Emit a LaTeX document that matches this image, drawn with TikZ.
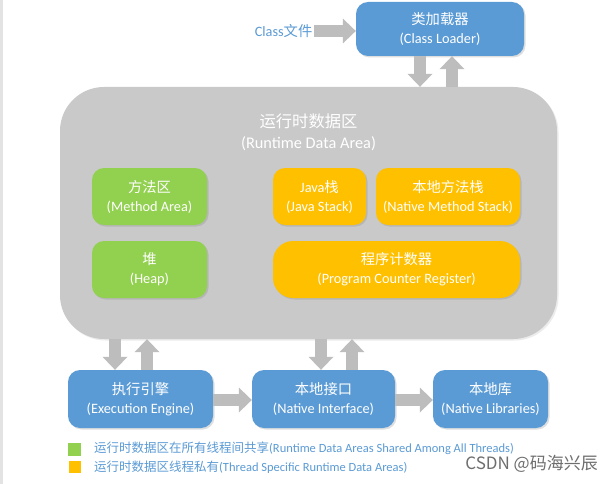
\documentclass[tikz,border=0pt]{standalone}
\usepackage{fontspec}
\setmainfont{Carlito}
\newfontfamily\cjk{Noto Sans CJK SC}
\usetikzlibrary{arrows.meta,shadows}
\definecolor{boxblue}{HTML}{5B9BD5}
\definecolor{boxgreen}{HTML}{92D050}
\definecolor{boxorange}{HTML}{FFC000}
\definecolor{areagray}{HTML}{C9C9C9}
\definecolor{arrowgray}{HTML}{BDBDBD}
\definecolor{textblue}{HTML}{5B9BD5}
\definecolor{markgray}{HTML}{6E6E6E}
\definecolor{edgegray}{HTML}{E3E3E3}
\tikzset{
  box/.style={rounded corners=12pt, text=white, align=center, inner sep=0pt,
    font=\fontsize{14.3}{19}\selectfont,
    drop shadow={shadow xshift=1.5pt, shadow yshift=-1.5pt, fill=black!50, opacity=0.25}},
  bluebox/.style={box, fill=boxblue},
  greenbox/.style={box, fill=boxgreen},
  orangebox/.style={box, fill=boxorange},
  blockarrow/.style={draw=arrowgray, line width=12pt,
    -{Triangle[width=25pt,length=13pt,line width=0pt]}},
  legendtext/.style={anchor=west, text=textblue, inner sep=0pt, font=\fontsize{12.5}{14}\selectfont},
}
\begin{document}
\begin{tikzpicture}[x=1pt,y=-1pt]
\path[use as bounding box, fill=white] (0,0) rectangle (613,484);
\fill[edgegray] (0,0) rectangle (3,484);

% Runtime data area
\node[fill=areagray, rounded corners=44pt, minimum width=497pt, minimum height=252pt,
      inner sep=0pt, drop shadow={shadow xshift=1.5pt, shadow yshift=-1.5pt, fill=black!50, opacity=0.15}]
      (rda) at (308.5,213) {};
\node[text=white, align=center, font=\fontsize{16.3}{21}\selectfont, inner sep=0pt]
      (rdatitle) at (308.5,132.5) {{\cjk 运行时数据区}\\(Runtime Data Area)};

% Class loader
\node[bluebox, minimum width=168pt, minimum height=54pt] (cl) at (440,29)
      {{\cjk 类加载器}\\(Class Loader)};
\node[text=textblue, anchor=east, inner sep=1.5pt, font=\fontsize{14.3}{16}\selectfont]
      (classfile) at (314,31) {Class{\cjk 文件}};

% inner areas
\node[greenbox, minimum width=115pt, minimum height=57pt] (ma) at (149.5,196.5)
      {{\cjk 方法区}\\(Method Area)};
\node[greenbox, minimum width=115pt, minimum height=57pt] (heap) at (149.5,269.5)
      {{\cjk 堆}\\(Heap)};
\node[orangebox, minimum width=93pt, minimum height=57pt] (js) at (319.5,196.5)
      {Java{\cjk 栈}\\(Java Stack)};
\node[orangebox, minimum width=144pt, minimum height=57pt] (nms) at (448,196.5)
      {{\cjk 本地方法栈}\\(Native Method Stack)};
\node[orangebox, rounded corners=20pt, minimum width=247pt, minimum height=57pt] (pcr) at (396.5,269.5)
      {{\cjk 程序计数器}\\(Program Counter Register)};

% bottom row
\node[bluebox, minimum width=145pt, minimum height=58pt] (ee) at (140.5,399)
      {{\cjk 执行引擎}\\(Execution Engine)};
\node[bluebox, minimum width=143pt, minimum height=58pt] (ni) at (323.5,399)
      {{\cjk 本地接口}\\(Native Interface)};
\node[bluebox, minimum width=115pt, minimum height=58pt] (nl) at (490.5,399)
      {{\cjk 本地库}\\(Native Libraries)};

% block arrows
\draw[blockarrow] (classfile.east) -- (cl.west |- classfile.east);
\draw[blockarrow] ([xshift=-20pt]cl.south) -- ([xshift=-20pt]cl.south |- rda.north);
\draw[blockarrow] ([xshift=12pt]cl.south |- rda.north) -- ([xshift=12pt]cl.south);
\draw[blockarrow] ([xshift=-25.5pt]ee.north |- rda.south) -- ([xshift=-25.5pt]ee.north);
\draw[blockarrow] ([xshift=6.5pt]ee.north) -- ([xshift=6.5pt]ee.north |- rda.south);
\draw[blockarrow] ([xshift=-2.5pt]ni.north |- rda.south) -- ([xshift=-2.5pt]ni.north);
\draw[blockarrow] ([xshift=28.5pt]ni.north) -- ([xshift=28.5pt]ni.north |- rda.south);
\draw[blockarrow] ([yshift=-1pt]ee.east) -- ([yshift=-1pt]ni.west);
\draw[blockarrow] ([yshift=-1pt]ni.east) -- ([yshift=-1pt]nl.west);

% legend
\node[fill=boxgreen, minimum size=13pt, inner sep=0pt] (lg) at (74.5,449) {};
\node[fill=boxorange, minimum size=12pt, inner sep=0pt] (lo) at (74.5,467) {};
\node[legendtext] (lgt) at (94,448) {{\cjk 运行时数据区在所有线程间共享}(Runtime Data Areas Shared Among All Threads)};
\node[legendtext] (lot) at (94,467) {{\cjk 运行时数据区线程私有}(Thread Specific Runtime Data Areas)};

% mark
\node[text=markgray, anchor=east, inner sep=0pt, font=\cjk\fontsize{17}{19}\selectfont]
      (mark) at (598,464) {CSDN @码海兴辰};
\end{tikzpicture}
\end{document}
